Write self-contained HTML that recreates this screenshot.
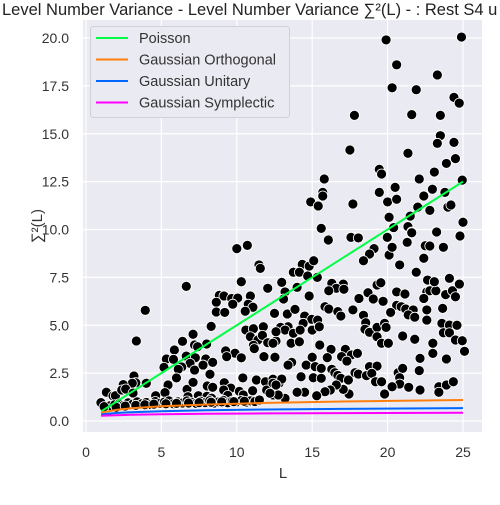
<!DOCTYPE html>
<html><head><meta charset="utf-8"><style>
html,body{margin:0;padding:0;background:#fff;}
svg text{font-family:"Liberation Sans",sans-serif;}
</style></head><body>
<svg id="chart" width="500" height="500" xmlns="http://www.w3.org/2000/svg">
<text x="2" y="15" font-size="16.5" fill="#222">Level Number Variance - Level Number Variance ∑²(L) - : Rest S4 u</text>
<rect x="83" y="20" width="399" height="412" fill="#eaeaf2"/>
<g id="grid"></g>
<g id="points"></g>
<g id="lines"></g>
<g id="ticks"></g>
<text x="283" y="478" font-size="15" fill="#333" text-anchor="middle">L</text>
<text transform="translate(42,226) rotate(-90)" font-size="15" fill="#333" text-anchor="middle">∑²(L)</text>
<g>
<rect x="90.5" y="26.5" width="199" height="91" rx="3" fill="#eaeaf2" stroke="#d0d0d8"/>
<g id="legend-items"></g>
</g>
</svg>
<script>
const xTicks=[0,5,10,15,20,25];
const yTicks=[0,2.5,5,7.5,10,12.5,15,17.5,20];
const yTickLabels=["0.0","2.5","5.0","7.5","10.0","12.5","15.0","17.5","20.0"];
const curveL=[1,2,3,5,8,12,17,25];
const poisson=[0.5,1,1.5,2.5,4,6,8.5,12.5];
const goe=[0.44,0.582,0.664,0.768,0.863,0.945,1.016,1.094];
const gue=[0.346,0.416,0.457,0.509,0.557,0.598,0.633,0.672];
const gse=[0.271,0.305,0.326,0.352,0.376,0.397,0.414,0.434];
const seriesNames=["Poisson","Gaussian Orthogonal","Gaussian Unitary","Gaussian Symplectic"];
const seriesColors=["#00ff44","#ff7f0e","#0066ff","#ff00ff"];
const ptL=[19.9,24.9,20.6,23.3,20.3,21.9,24.4,24.75,17.8,21.6,23.5,23.5,23.3,24.4,17.5,21.35,23.9,24.5,19.45,19.6,15.8,22.1,23.1,24.95,15.7,15.7,14.9,15.4,17.7,19.45,20.5,20.0,20.6,22.97,22.4,23.8,24.0,24.2,22.8,22.0,21.5,20.1,25.0,15.6,21.35,21.6,23.2,20.4,24.8,17.6,18.05,16.1,20.0,
10.0,10.7,11.47,11.56,10.3,6.65,3.93,12.05,8.84,9.15,9.66,10.06,10.9,8.64,9.73,10.76,11.07,8.64,9.2,10.56,12.5,8.3,10.6,11.1,11.76,7.1,3.34,6.4,10.9,11.4,11.7,12.05,12.6,7.2,8.0,7.4,5.86,9.26,9.88,9.33,10.3,11.8,11.1,11.16,5.33,5.8,6.65,7.25,7.94,8.4,6.9,6.35,7.2,7.76,5.17,6.12,6.0,8.22,3.18,3.3,3.07,4.0,5.44,2.47,1.35,1.79,1.95,2.37,2.63,3.12,4.62,5.24,0.99,10.4,11.3,11.9,12.4,12.8,9.17,9.6,10.17,11.05,11.98,12.4,6.7,7.1,8.04,8.4,9.13,9.4,10.43,6.76,7.45,8.02,8.33,
16.07,17.57,18.06,19.98,21.6,23.25,24.8,19.1,18.8,18.4,20.1,20.3,21.3,22.5,22.8,23.7,22.4,20.8,14.34,14.8,15.1,13.75,14.15,14.7,15.34,21.9,12.98,13.2,13.1,14.0,14.8,12.5,16.3,17.06,16.6,16.1,17.1,18.1,18.7,19.05,19.3,19.55,19.7,20.6,21.15,20.6,20.9,20.2,21.2,21.7,21.37,21.8,22.6,22.8,23.2,22.4,22.6,23.85,24.3,24.5,24.1,24.76,22.65,23.1,23.65,22.6,15.85,16.1,16.7,16.9,17.7,18.4,18.55,18.5,18.8,19.3,19.8,19.9,20.2,19.3,19.6,20.05,21.0,21.8,23.0,23.6,23.7,24.1,24.6,24.1,24.5,24.95,25.1,13.35,13.86,14.5,14.97,15.36,14.4,13.4,12.9,13.2,12.6,13.75,14.2,15.0,15.47,12.4,13.6,14.15,15.5,
12.53,16.25,16.0,15.0,17.2,17.6,18.0,16.95,17.3,13.64,13.4,14.6,15.2,15.6,14.26,15.07,15.6,16.3,16.5,16.7,16.9,17.4,17.84,18.06,18.8,19.3,18.6,18.95,19.2,19.6,20.7,21.0,20.8,20.8,20.3,21.4,22.15,22.15,23.0,23.9,22.1,23.4,23.9,24.36,23.4,19.8,17.44,17.06,16.6,16.2,15.85,15.3,14.5,14.0,13.2,12.75,12.2,12.4,12.98,12.6,
1.6,1.9,2.2,2.5,2.8,3.1,3.4,3.7,4.0,4.3,4.6,4.9,5.2,5.5,5.8,6.1,6.4,6.7,7.0,7.3,7.6,7.9,8.2,8.5,8.8,9.1,9.4,9.7,10.0,10.3,10.6,10.9,11.2,11.5,2.0,2.6,3.3,3.9,4.5,5.3,6.0,6.8,7.5,8.3,9.0,9.8,10.5,1.2];
const ptV=[19.9,20.05,18.6,18.07,17.4,17.3,16.9,16.6,15.96,16.0,15.96,14.9,14.5,14.55,14.15,13.98,13.45,13.7,13.14,12.9,12.64,12.64,13.0,12.58,11.94,11.75,11.44,11.23,11.33,11.94,12.2,11.44,11.58,12.1,11.75,11.94,11.17,11.28,11.0,11.17,10.7,10.64,10.38,10.06,10.15,9.87,9.87,10.1,9.68,9.6,9.6,9.49,9.63,
9.0,9.17,8.15,7.97,7.27,7.03,5.78,6.93,6.56,6.53,6.4,6.42,6.53,6.2,6.1,6.1,5.94,5.69,5.67,5.73,5.59,4.94,4.75,4.82,4.92,4.53,4.18,4.16,4.4,4.23,4.47,4.09,4.18,3.97,4.02,3.88,3.71,3.66,3.54,3.36,3.3,3.36,3.95,3.78,3.24,3.22,3.39,3.3,3.24,3.06,3.01,2.82,2.66,2.92,2.8,2.7,2.25,2.44,2.35,2.0,1.97,1.97,1.88,1.9,1.5,1.31,1.32,1.62,1.67,1.46,1.32,1.48,0.96,2.25,2.14,2.05,2.18,1.97,2.0,1.72,1.55,1.58,1.62,1.36,1.65,2.02,1.83,1.76,1.62,1.34,1.36,1.27,1.32,1.29,1.19,
9.45,9.59,9.56,9.59,9.83,9.87,9.66,9.0,8.72,8.37,8.67,9.07,9.33,9.15,9.14,9.07,8.5,8.15,8.18,8.09,8.37,7.77,7.77,7.57,7.5,7.77,7.24,6.74,6.37,6.98,6.53,5.62,7.19,7.15,6.93,6.8,6.88,6.4,6.7,6.37,7.1,7.22,6.25,6.74,6.63,6.04,5.97,5.62,5.85,5.8,5.54,5.42,6.74,6.8,6.8,6.4,5.8,6.6,6.8,6.49,7.45,7.15,7.36,7.27,5.88,5.27,5.97,5.85,5.71,5.48,5.8,5.52,5.13,4.79,4.63,4.89,5.1,4.89,5.67,4.4,4.06,4.06,4.44,4.27,4.06,5.1,4.61,5.01,5.0,4.61,4.23,4.19,3.64,5.59,5.83,5.48,5.31,5.27,5.1,4.92,4.89,4.75,4.66,4.58,4.75,4.75,4.92,4.06,4.06,4.14,3.97,
3.33,3.74,3.31,3.33,3.74,3.45,3.53,3.36,3.13,3.06,2.92,2.92,2.84,2.75,2.31,2.26,2.23,2.7,2.52,2.38,2.23,2.14,2.52,2.45,2.84,2.87,2.37,2.49,2.05,2.05,2.52,2.75,2.26,1.93,1.79,1.76,1.62,3.27,3.53,3.24,2.63,1.79,1.88,2.05,1.5,1.41,1.41,1.65,1.88,1.62,1.53,1.32,1.5,1.5,1.18,1.36,1.45,1.97,2.19,1.88,
0.8,0.85,0.9,0.82,0.95,0.88,1.0,0.9,0.97,0.86,1.02,0.92,0.99,1.05,0.9,1.0,0.94,1.05,0.98,0.92,1.03,0.96,1.06,0.94,1.0,1.08,0.95,1.04,1.0,1.07,0.97,1.05,1.02,1.1,0.72,0.78,0.82,0.85,0.88,0.9,0.92,0.94,0.96,0.98,1.0,1.01,1.03,0.75];
const NS="http://www.w3.org/2000/svg";
const X0=83,X1=482,Y0=20,Y1=432;
function xs(v){return 86+v*15.08;}
function ys(v){return 421-v*19.15;}
function mk(tag,attrs,parent){const e=document.createElementNS(NS,tag);for(const k in attrs)e.setAttribute(k,attrs[k]);parent.appendChild(e);return e;}
const grid=document.getElementById('grid'),ticks=document.getElementById('ticks');
xTicks.forEach((t,i)=>{
  const g=mk('line',{x1:xs(t),x2:xs(t),y1:Y0,y2:Y1,stroke:'#fff','stroke-width':1.2},grid);
  
  
  const tx=mk('text',{x:xs(t),y:457,'font-size':14,fill:'#333','text-anchor':'middle'},ticks);
  tx.textContent=String(t);
  
  
});
yTicks.forEach((t,i)=>{
  const g=mk('line',{x1:X0,x2:X1,y1:ys(t),y2:ys(t),stroke:'#fff','stroke-width':1.2},grid);
  
  
  const tx=mk('text',{x:69,y:ys(t)+5,'font-size':14,fill:'#333','text-anchor':'end'},ticks);
  tx.textContent=yTickLabels[i];
  
  
});
const pts=document.getElementById('points');
for(let i=0;i<ptL.length;i++){
  const c=mk('circle',{cx:xs(ptL[i]),cy:ys(ptV[i]),r:5,fill:'#000',stroke:'#fff','stroke-width':0.8},pts);
  
  
}
const lines=document.getElementById('lines');
[poisson,goe,gue,gse].forEach((s,k)=>{
  const d=curveL.map((l,i)=>(i?'L':'M')+xs(l).toFixed(1)+','+ys(s[i]).toFixed(1)).join(' ');
  const p=mk('path',{d:d,fill:'none',stroke:seriesColors[k],'stroke-width':2},lines);
  
  
});
const leg=document.getElementById('legend-items');
seriesNames.forEach((n,k)=>{
  const y=38+k*21.5;
  const l=mk('line',{x1:96,x2:128,y1:y,y2:y,stroke:seriesColors[k],'stroke-width':2},leg);
  
  
  const t=mk('text',{x:139,y:y+5,'font-size':14.5,fill:'#333'},leg);
  t.textContent=n;
  
  
});
</script>
</body></html>
